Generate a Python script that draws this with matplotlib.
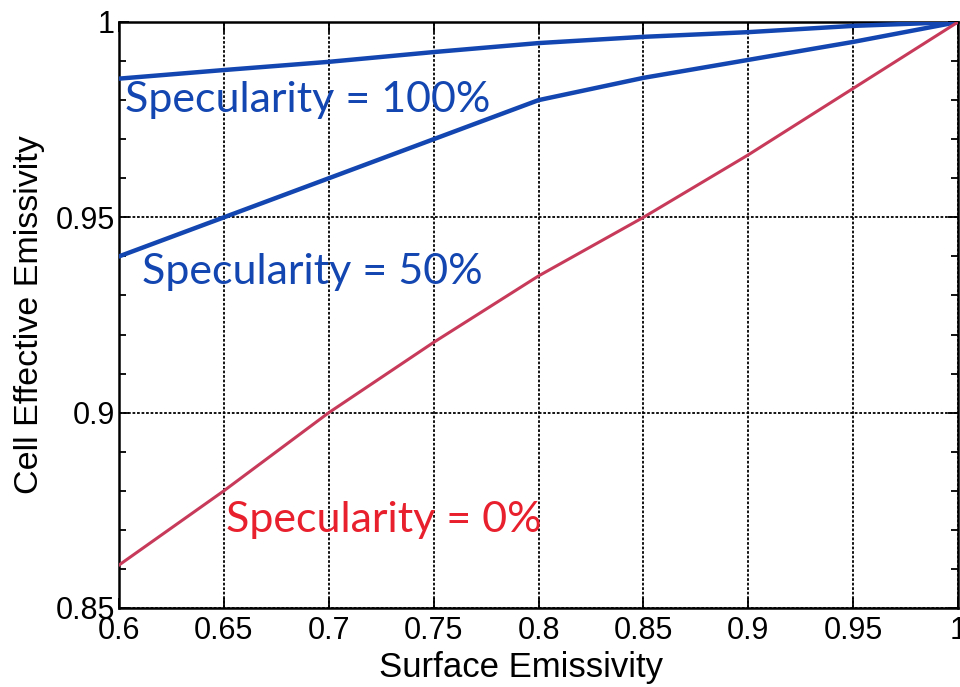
import matplotlib
matplotlib.use("Agg")
import matplotlib.pyplot as plt
from matplotlib.ticker import MultipleLocator

# surface emissivity (x) and cell effective emissivity for each specularity
surface = [0.6, 0.65, 0.7, 0.75, 0.8, 0.85, 0.9, 0.95, 1.0]
spec_100 = [0.9855, 0.9877, 0.9898, 0.9923, 0.9946, 0.9962, 0.9974, 0.9990, 1.0]
spec_50 = [0.940, 0.950, 0.960, 0.970, 0.980, 0.9857, 0.9903, 0.9949, 1.0]
spec_0 = [0.861, 0.880, 0.900, 0.918, 0.935, 0.950, 0.966, 0.983, 1.0]

x_ticks = [0.6, 0.65, 0.7, 0.75, 0.8, 0.85, 0.9, 0.95, 1.0]
x_labels = ["0.6", "0.65", "0.7", "0.75", "0.8", "0.85", "0.9", "0.95", "1"]
y_ticks = [0.85, 0.9, 0.95, 1.0]
y_labels = ["0.85", "0.9", "0.95", "1"]

blue = "#1346b0"
red = "#e8202e"

fig = plt.figure(figsize=(9.6, 6.87), dpi=100)
ax = fig.add_axes([0.124, 0.115, 0.874, 0.853])

ax.plot(surface, spec_100, color=blue, lw=3.2, zorder=3)
ax.plot(surface, spec_50, color=blue, lw=3.2, zorder=3)
ax.plot(surface, spec_0, color="#c83a5a", lw=2.2, zorder=3)

ax.set_xlim(0.6, 1.0)
ax.set_ylim(0.85, 1.0)
ax.set_xticks(x_ticks)
ax.set_xticklabels(x_labels)
ax.set_yticks(y_ticks)
ax.set_yticklabels(y_labels)
ax.yaxis.set_minor_locator(MultipleLocator(0.01))

ax.grid(True, which="major", color="black", linestyle=(0, (1.5, 1)), linewidth=1.3)
ax.tick_params(which="both", direction="in", top=True, right=True, width=1.3)
ax.tick_params(which="major", length=7, labelsize=22, pad=3)
ax.tick_params(axis="x", pad=6)
ax.tick_params(which="minor", length=5)
for lab in ax.get_xticklabels() + ax.get_yticklabels():
    lab.set_family("Liberation Sans")
for s in ax.spines.values():
    s.set_linewidth(1.8)

ax.set_xlabel("Surface Emissivity", fontsize=25, family="Liberation Sans")
ax.set_ylabel("Cell Effective Emissivity", fontsize=24.5, family="Liberation Sans")
ax.xaxis.set_label_coords(0.479, -0.074)
ax.yaxis.set_label_coords(-0.088, 0.5)

ax.text(0.603, 0.9800, "Specularity = 100%", color=blue, fontsize=31,
        family="Lato", va="center", ha="left")
ax.text(0.611, 0.9360, "Specularity = 50%", color=blue, fontsize=31,
        family="Lato", va="center", ha="left")
ax.text(0.651, 0.8725, "Specularity = 0%", color=red, fontsize=31,
        family="Lato", va="center", ha="left")

fig.savefig("out.png", dpi=100)
